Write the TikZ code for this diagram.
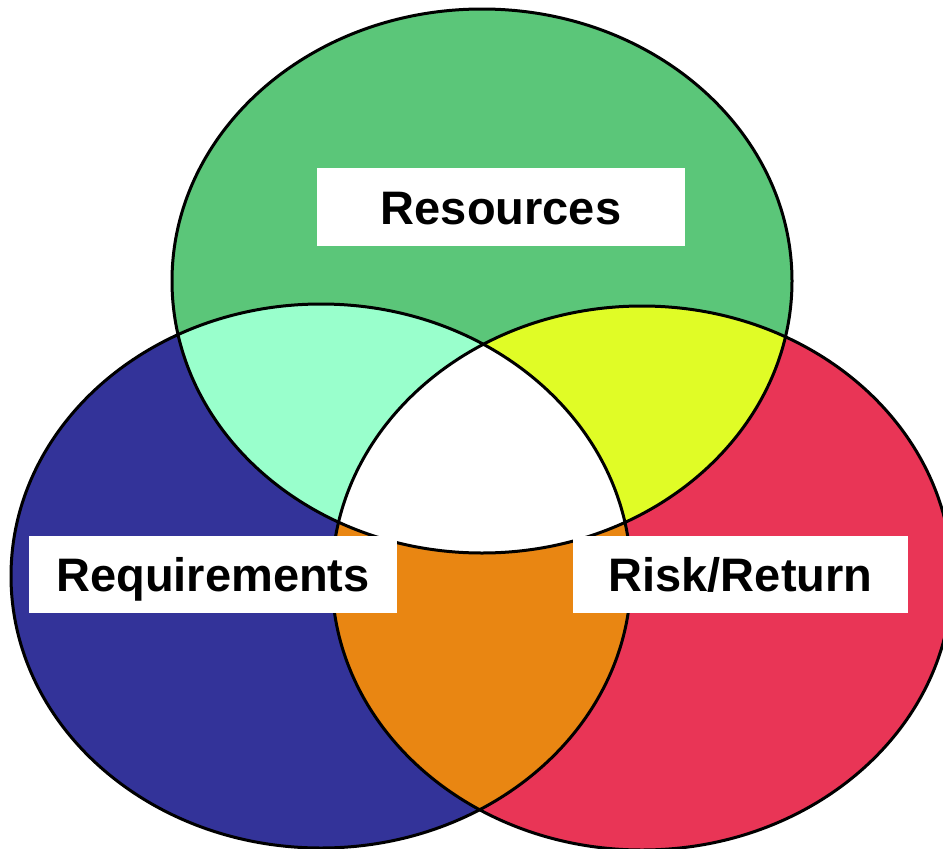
\documentclass[tikz,border=0pt]{standalone}
\usepackage{fontspec}
\setmainfont{Liberation Sans}
\usepackage{tikz}

\definecolor{resgreen}{HTML}{5BC679}
\definecolor{reqblue}{HTML}{333399}
\definecolor{riskred}{HTML}{E93556}
\definecolor{mint}{HTML}{99FFCC}
\definecolor{lime}{HTML}{E0FC26}
\definecolor{overlaporange}{HTML}{E98612}

\tikzset{
    labelbox/.style={fill=white, inner sep=0pt, minimum height=77pt,
        text height=34pt, text depth=0pt,
        font=\fontsize{47}{56}\selectfont\bfseries},
    oval/.style={x radius=310, y radius=272}
}

\begin{document}
\begin{tikzpicture}[x=1pt, y=-1pt, line width=3pt]
    \useasboundingbox (0,0) rectangle (943,849);
    \coordinate (G) at (482, 281);
    \coordinate (B) at (321, 576);
    \coordinate (R) at (642, 578);

    \fill[resgreen] (G) ellipse [oval]; % resources
    \fill[reqblue] (B) ellipse [oval]; % requirements
    \fill[riskred] (R) ellipse [oval]; % risk/return

    \begin{scope}
        \clip (G) ellipse [oval];
        \fill[mint] (B) ellipse [oval]; % resources + requirements
        \fill[lime] (R) ellipse [oval]; % resources + risk
    \end{scope}
    \begin{scope}
        \clip (B) ellipse [oval];
        \fill[overlaporange] (R) ellipse [oval]; % requirements + risk
        \clip (R) ellipse [oval];
        \fill[white] (G) ellipse [oval]; % all three
    \end{scope}

    \draw (G) ellipse [oval];
    \draw (B) ellipse [oval];
    \draw (R) ellipse [oval];

    \node[labelbox, minimum width=368pt, minimum height=78pt] (resources) at (501, 207) {Resources};
    \node[labelbox, minimum width=368pt] (requirements) at (213, 574.5) {Requirements};
    \node[labelbox, minimum width=335pt] (riskreturn) at (740.5, 574.5) {Risk/Return};
\end{tikzpicture}
\end{document}
